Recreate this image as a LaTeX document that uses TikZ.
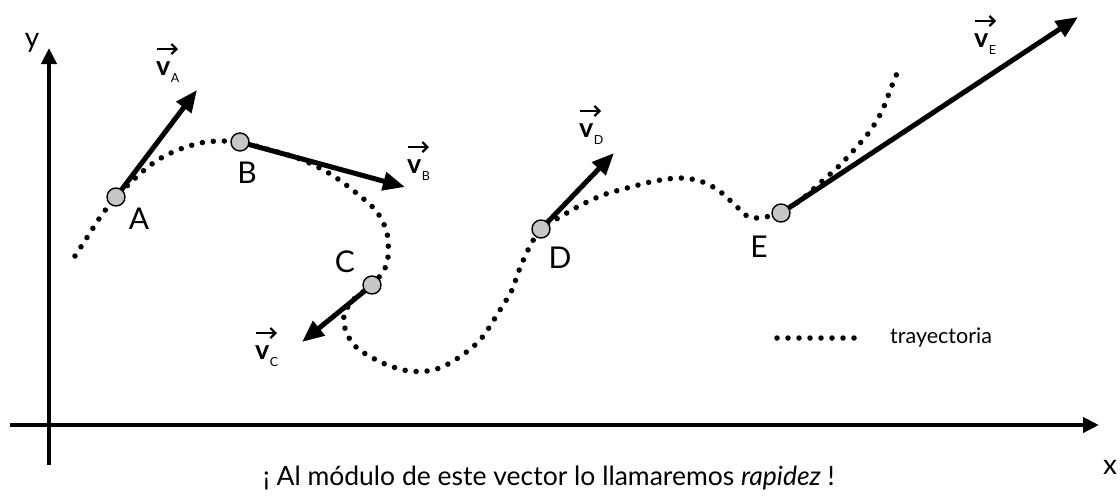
\documentclass[tikz,border=0pt]{standalone}
\usepackage{fontspec}
\setmainfont{Lato}
\usetikzlibrary{arrows.meta}
\newcommand\vlab[1]{\textbf{v}\kern0.5pt\raisebox{-7pt}{\fontsize{12.5}{12.5}\selectfont #1}}
\begin{document}
\begin{tikzpicture}[x=1pt,y=-1pt,
 traj/.style={line width=5.5pt, line cap=round, dash pattern=on 0pt off 11pt},
 vecarrow/.style={line width=5pt, -{Triangle[length=22pt,width=18pt]}},
 axis/.style={line width=4pt, -{Triangle[length=16pt,width=15pt]}},
 accent/.style={line width=2.2pt, -{Straight Barb[length=5pt,width=10pt,line width=2.2pt]}},
 pt/.style={circle, draw, line width=1.4pt, fill=gray!45, minimum size=18pt, inner sep=0pt},
 ptlab/.style={font=\fontsize{30}{30}\selectfont, inner sep=0pt, anchor=base},
 vlabs/.style={font=\fontsize{27}{27}\selectfont, inner sep=0pt, anchor=base west},
 txt/.style={inner sep=0pt, anchor=base}]
\useasboundingbox (0,0) rectangle (1120,499);
% axes
\coordinate (ys) at (49,465);
\coordinate (ye) at (49,48);
\coordinate (xs) at (10,425);
\coordinate (xe) at (1099,425);
\draw[axis] (ys) -- (ye);
\draw[axis] (xs) -- (xe);
\node[txt, font=\fontsize{28}{28}\selectfont] (ylab) at (32,47) {y};
\node[txt, font=\fontsize{28}{28}\selectfont] (xlab) at (1110,474) {x};
% trajectory
\draw[traj] plot[smooth, tension=0.55] coordinates {
(75,256) (88,236) (101,216) (116,197) (142,172) (161,158) (183,148) (206,142) (230,141) (240,142)
(263,148) (300,159) (332,175) (360,196) (377,212) (387,233) (388,257) (384,270) (372,285)
(355,298) (345,312) (344,324) (348,336) (355,346) (364,353) (385,364) (409,371) (433,370)
(455,360) (480,340) (500,310) (512,290) (518,273) (528,250) (541,229) (560,217) (581,205)
(603,195) (627,188) (655,181) (680,178) (700,181) (718,190) (735,205) (747,216) (758,218)
(770,216) (781,213) (802,199) (820,183) (838,167) (854,150) (870,131) (882,111) (891,88) (900,66)};
% points
\coordinate (Apos) at (116,197);
\coordinate (Bpos) at (240,142);
\coordinate (Cpos) at (372,285);
\coordinate (Dpos) at (541,229);
\coordinate (Epos) at (781,213);
\coordinate (tA) at (197,90);
\coordinate (tB) at (405,187);
\coordinate (tC) at (302,342);
\coordinate (tD) at (614,153);
\coordinate (tE) at (1078,17);
\draw[vecarrow] (Apos) -- (tA);
\draw[vecarrow] (Bpos) -- (tB);
\draw[vecarrow] (Cpos) -- (tC);
\draw[vecarrow] (Dpos) -- (tD);
\draw[vecarrow] (Epos) -- (tE);
\node[pt] (A) at (Apos) {};
\node[pt] (B) at (Bpos) {};
\node[pt] (C) at (Cpos) {};
\node[pt] (D) at (Dpos) {};
\node[pt] (E) at (Epos) {};
% point labels
\node[ptlab] (lA) at (139,229) {A};
\node[ptlab] (lB) at (247,183) {B};
\node[ptlab] (lC) at (345,272) {C};
\node[ptlab] (lD) at (560,268) {D};
\node[ptlab] (lE) at (759,257) {E};
% vector labels
\node[vlabs] (vA) at (156,75) {\vlab{A}};
\node[vlabs] (vB) at (407,173) {\vlab{B}};
\node[vlabs] (vC) at (255,359) {\vlab{C}};
\node[vlabs] (vD) at (579,137) {\vlab{D}};
\node[vlabs] (vE) at (974,47) {\vlab{E}};
\foreach \v in {vA,vB,vC,vD,vE}
  \draw[accent] ([shift={(1,-26)}]\v.base west) -- ++(21,0);
% legend
\coordinate (lg1) at (777,338);
\coordinate (lg2) at (865,338);
\draw[traj] (lg1) -- (lg2);
\node[txt, anchor=base west, font=\fontsize{21.5}{21.5}\selectfont] (leg) at (890,343) {trayectoria};
% caption
\node[txt, font=\fontsize{26.5}{26.5}\selectfont] (cap) at (549,485) {¡ Al módulo de este vector lo llamaremos \textit{rapidez} !};
\end{tikzpicture}
\end{document}
